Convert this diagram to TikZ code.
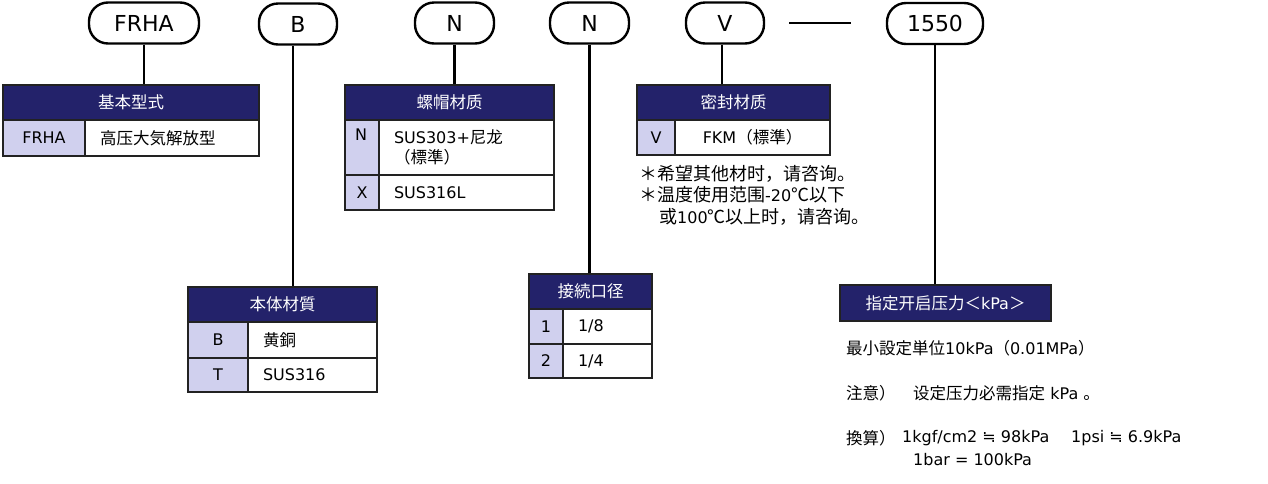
\documentclass[tikz,border=0pt]{standalone}
\usepackage{fontspec}
\setmainfont{DejaVu Sans}
\newfontfamily\cjkf{Noto Sans CJK JP}
\newfontfamily\latf{DejaVu Sans}
\newcommand\cjt[1]{{\cjkf\fontsize{16.5}{20}\selectfont #1}}
\newcommand\ltn[1]{{\latf\fontsize{16}{20}\selectfont #1}}
\definecolor{navy}{HTML}{23226A}
\definecolor{lav}{HTML}{D0D0EE}
\definecolor{bord}{HTML}{222222}
\tikzset{
  pill/.style={draw=black, line width=2.4pt, rounded corners=19pt, minimum height=41pt, inner sep=0pt, font=\latf\fontsize{22}{26}\selectfont},
  conn/.style={draw=black, line width=2.4pt},
  hdr/.style={draw=bord, fill=navy, line width=2pt, text=white, anchor=north west, inner sep=0pt, font=\cjkf\fontsize{16.5}{20}\selectfont},
  keyc/.style={draw=bord, fill=lav, line width=2pt, anchor=north west, inner sep=0pt},
  valc/.style={draw=bord, fill=white, line width=2pt, anchor=north west, inner xsep=15pt, inner ysep=0pt, align=left},
  cellt/.style={inner sep=0pt},
  txt/.style={anchor=west, inner sep=0pt}
}
\begin{document}
\begin{tikzpicture}[x=1pt, y=-1pt, font=\latf\fontsize{16}{20}\selectfont]
\useasboundingbox (0,0) rectangle (1268,483);
% code pills
\node[pill, minimum width=110pt] (pA) at (144,23) {FRHA};
\node[pill, minimum width=78pt] (pB) at (298,24) {B};
\node[pill, minimum width=79pt] (pN1) at (454.5,23) {N};
\node[pill, minimum width=79pt] (pN2) at (589.5,23) {N};
\node[pill, minimum width=78pt] (pV) at (725,23) {V};
\node[pill, minimum width=96pt] (pP) at (935,23.5) {1550};
% table 1
\node[hdr, minimum width=256pt, minimum height=35pt] (h1) at (2,84) {基本型式};
\node[keyc, minimum width=82pt, minimum height=36pt] (k1a) at (2,119) {FRHA};
\node[valc, text width=144pt, minimum height=36pt] (v1a) at (84,119) {\cjt{高压大気解放型}};
% table 2
\node[hdr, minimum width=209pt, minimum height=35pt] (h2) at (344,84) {螺帽材质};
\node[keyc, minimum width=34pt, minimum height=55pt] (k2a) at (344,119) {};
\node[cellt] (k2at) at (361,135) {N};
\node[valc, text width=145pt, minimum height=55pt] (v2a) at (378,119) {SUS303+\cjt{尼龙}\\\cjt{（標準）}};
\node[keyc, minimum width=34pt, minimum height=35pt] (k2b) at (344,174) {X};
\node[valc, text width=145pt, minimum height=35pt] (v2b) at (378,174) {SUS316L};
% table 3
\node[hdr, minimum width=193pt, minimum height=35pt] (h3) at (636,84) {密封材质};
\node[keyc, minimum width=38pt, minimum height=35pt] (k3a) at (636,119) {V};
\node[valc, text width=125pt, minimum height=35pt, align=center] (v3a) at (674,119) {FKM\cjt{（標準）}};
\node[anchor=north west, align=left, inner sep=0pt, font=\cjkf\fontsize{18}{21.5}\selectfont] (notes) at (639,165)
  {＊希望其他材时，请咨询。\\＊温度使用范围\ltn{-20}℃以下\\\hspace*{20pt}或\ltn{100}℃以上时，请咨询。};
% table 4
\node[hdr, minimum width=189pt, minimum height=35pt] (h4) at (187,286) {本体材質};
\node[keyc, minimum width=60pt, minimum height=36pt] (k4a) at (187,321) {B};
\node[valc, text width=99pt, minimum height=36pt] (v4a) at (247,321) {\cjt{黄銅}};
\node[keyc, minimum width=60pt, minimum height=34pt] (k4b) at (187,357) {T};
\node[valc, text width=99pt, minimum height=34pt] (v4b) at (247,357) {SUS316};
% table 5
\node[hdr, minimum width=123pt, minimum height=35pt] (h5) at (528,273) {接続口径};
\node[keyc, minimum width=34pt, minimum height=35pt] (k5a) at (528,308) {1};
\node[valc, text width=59pt, minimum height=35pt] (v5a) at (562,308) {1/8};
\node[keyc, minimum width=34pt, minimum height=34pt] (k5b) at (528,343) {2};
\node[valc, text width=59pt, minimum height=34pt] (v5b) at (562,343) {1/4};
% table 6
\node[hdr, minimum width=211pt, minimum height=36pt] (h6) at (839,284) {指定开启压力＜\ltn{kPa}＞};
\node[txt] (m1) at (846,348) {\cjt{最小設定単位}10kPa\cjt{（}0.01MPa\cjt{）}};
\node[txt] (m2a) at (846,393) {\cjt{注意）}};
\node[txt] (m2b) at (913,393) {\cjt{设定压力必需指定} kPa \cjt{。}};
\node[txt] (m3a) at (846,438) {\cjt{換算）}};
\node[txt] (m3b) at (902,438) {1kgf/cm2 ≒ 98kPa};
\node[txt] (m3c) at (1071,438) {1psi ≒ 6.9kPa};
\node[txt] (m4) at (913,460) {1bar = 100kPa};
% connectors
\draw[conn] (pA.south) -- (pA.south |- h1.north);
\draw[conn] (pB.south) ++(-5,0) coordinate (bq) -- (bq |- h4.north);
\draw[conn] (pN1.south) -- (pN1.south |- h2.north);
\draw[conn] (pN2.south) -- (pN2.south |- h5.north);
\draw[conn] (pV.south) ++(-3,0) coordinate (vq) -- (vq |- h3.north);
\draw[conn] (pP.south) -- (pP.south |- h6.north);
\path (pP.west) ++(-35,0) coordinate (dq);
\draw[conn] ([xshift=24pt]pV.east) -- (dq |- pV.east);
\end{tikzpicture}
\end{document}
